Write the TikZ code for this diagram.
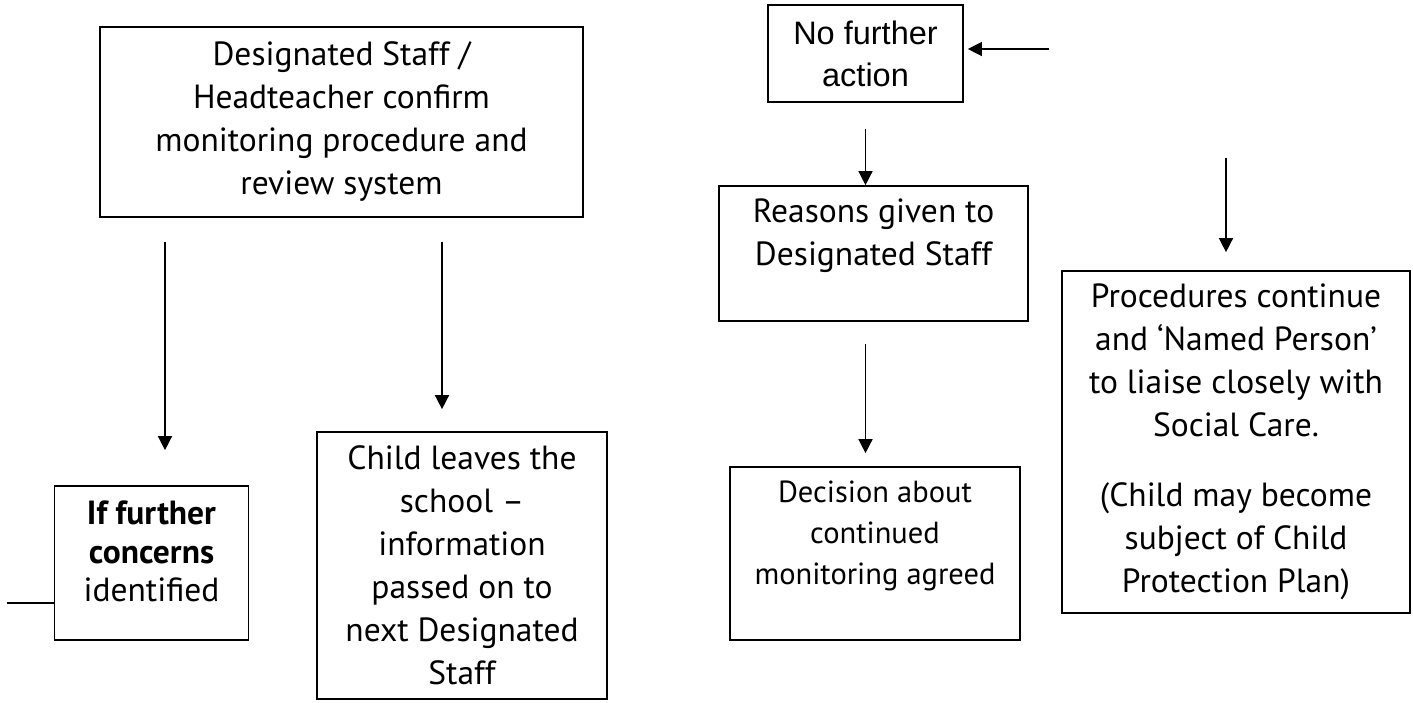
\documentclass[tikz,border=0pt]{standalone}
\usepackage{fontspec}
\setmainfont{PT Sans}
\newfontfamily\arialfont{Liberation Sans}
\usepackage{tikz}
\usetikzlibrary{positioning, calc}
\usetikzlibrary{arrows.meta}
\tikzstyle{flowbox}=[rectangle,draw=black,line width=1.7pt,align=center,
font=\fontsize{33.5}{43}\selectfont]
\tikzstyle{smallbox}=[flowbox,font=\fontsize{30.5}{41}\selectfont]
\tikzstyle{arialbox}=[flowbox,font=\arialfont\fontsize{32.5}{42}\selectfont]
\tikzstyle{edgepath}=[-{Triangle[length=14pt,width=14pt]},line width=1.5pt]

\begin{document}
\begin{tikzpicture}[x=1pt,y=-1pt]
    \useasboundingbox (0,0) rectangle (1413,702);
    % left half
    \node[flowbox, minimum width=483pt, minimum height=190pt] (confirm) at (341.5,122)
        {Designated Staff /\\Headteacher confirm\\monitoring procedure and\\review system};
    \node[flowbox, minimum width=194pt, minimum height=154pt,
          font=\fontsize{33.5}{38.5}\selectfont] (further) at (151.5,563)
        {\textbf{If further}\\\textbf{concerns}\\identified\\[-15pt]\mbox{}};
    \node[flowbox, minimum width=290pt, minimum height=267pt] (child) at (462,565.5)
        {Child leaves the\\school –\\information\\passed on to\\next Designated\\Staff};
    % right half
    \node[arialbox, minimum width=195pt, minimum height=97pt] (nofurther) at (865.5,53.5)
        {No further\\action};
    \node[flowbox, minimum width=309pt, minimum height=135pt] (reasons) at (873.5,253.5)
        {Reasons given to\\Designated Staff\\\mbox{}};
    \node[smallbox, minimum width=290pt, minimum height=173pt] (decision) at (875,553.5)
        {Decision about\\continued\\monitoring agreed\\\mbox{}};
    \node[flowbox, minimum width=348pt, minimum height=342pt] (procedures) at (1236,442)
        {Procedures continue\\and ‘Named Person’\\to liaise closely with\\Social Care.\\[27pt]
         (Child may become\\subject of Child\\Protection Plan)};

    \coordinate (startl) at (165,242);
    \coordinate (startm) at (442,242);
    \coordinate (starth) at (1049,49);
    \coordinate (startr) at (1226,158);
    \coordinate (loose) at (7,603);

    \path[edgepath]
    (startl) edge[shorten >=35pt] (startl |- further.north)
    (startm) edge[shorten >=22pt] (startm |- child.north)
    (starth) edge[shorten >=4pt] (nofurther.east |- starth)
    (nofurther.south) edge[shorten <=26pt] (reasons.north -| nofurther.south)
    (reasons.south -| nofurther.south) edge[shorten <=22pt, shorten >=13pt] (decision.north -| nofurther.south)
    (startr) edge[shorten >=18pt] (startr |- procedures.north);
    \draw[line width=1.5pt] (loose) -- (loose -| further.west);
\end{tikzpicture}
\end{document}
